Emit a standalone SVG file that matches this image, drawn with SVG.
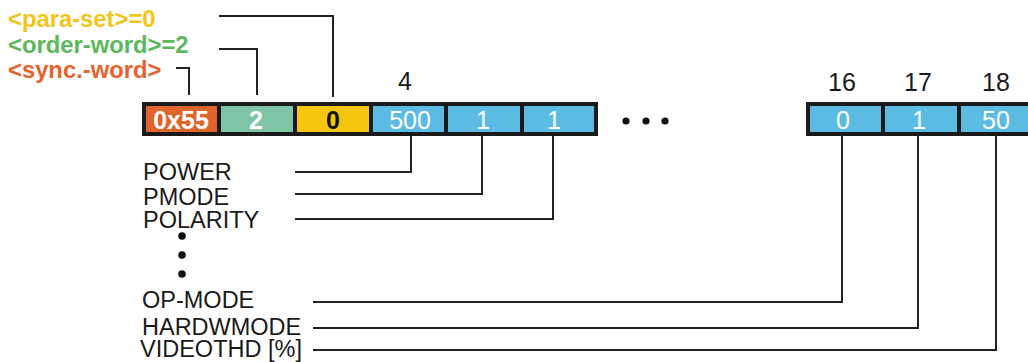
<svg xmlns="http://www.w3.org/2000/svg" width="1028" height="362" viewBox="0 0 1028 362">
<style>
.lbl{font-family:"Liberation Sans",Arial,sans-serif;font-size:23.5px;fill:#1a1a1a}
.top{font-family:"Liberation Sans",Arial,sans-serif;font-size:23.8px;font-weight:bold}
.num{font-family:"Liberation Sans",Arial,sans-serif;font-size:25px;fill:#1a1a1a;text-anchor:middle}
.cv{font-family:"Liberation Sans",Arial,sans-serif;font-size:25px;fill:#fff;text-anchor:middle}
.cb{font-family:"Liberation Sans",Arial,sans-serif;font-size:25px;font-weight:bold;fill:#fff;text-anchor:middle}
.cell{stroke:#1a1a1a;stroke-width:4}
.blue{fill:#5cbbe2}
.con{fill:none;stroke:#222;stroke-width:2}
.dot{fill:#111}
</style>
<g id="top-labels">
<text class="top" x="8" y="27" fill="#f4c418">&lt;para-set&gt;=0</text>
<text class="top" x="8" y="53" fill="#5cb85c">&lt;order-word&gt;=2</text>
<text class="top" x="8" y="78" fill="#e6632d">&lt;sync.-word&gt;</text>
</g>
<g id="index-labels">
<text class="num" x="405" y="90">4</text>
<text class="num" x="842" y="91">16</text>
<text class="num" x="918" y="91">17</text>
<text class="num" x="996" y="91">18</text>
</g>
<g id="cell-sync"><rect class="cell" x="144" y="104" width="75" height="30" fill="#e0652b"/><text class="cb" x="181" y="129">0x55</text></g>
<g id="cell-order"><rect class="cell" x="219" y="104" width="76" height="30" fill="#7ec5a7"/><text class="cb" x="256" y="129">2</text></g>
<g id="cell-para"><rect class="cell" x="295" y="104" width="76" height="30" fill="#f5c60f"/><text class="cb" x="333" y="129" style="fill:#111">0</text></g>
<g id="cell-power"><rect class="cell blue" x="371" y="104" width="75" height="30"/><text class="cv" x="410" y="129">500</text></g>
<g id="cell-pmode"><rect class="cell blue" x="446" y="104" width="76" height="30"/><text class="cv" x="483" y="129">1</text></g>
<g id="cell-polarity"><rect class="cell blue" x="522" y="104" width="74" height="30"/><text class="cv" x="554" y="129">1</text></g>
<g id="ellipsis"><circle class="dot" cx="626" cy="121" r="3.6"/><circle class="dot" cx="646" cy="121" r="3.6"/><circle class="dot" cx="665" cy="121" r="3.6"/></g>
<g id="cell-opmode"><rect class="cell blue" x="808" y="104" width="75" height="30"/><text class="cv" x="843" y="129">0</text></g>
<g id="cell-hardwmode"><rect class="cell blue" x="883" y="104" width="76" height="30"/><text class="cv" x="919" y="129">1</text></g>
<g id="cell-videothd"><rect class="cell blue" x="959" y="104" width="77" height="30"/><text class="cv" x="996" y="129">50</text></g>
<g id="param-labels">
<text class="lbl" x="143" y="180">POWER</text>
<text class="lbl" x="143" y="205">PMODE</text>
<text class="lbl" x="143" y="228">POLARITY</text>
<circle class="dot" cx="182" cy="236" r="3.8"/>
<circle class="dot" cx="182" cy="255" r="3.8"/>
<circle class="dot" cx="182" cy="274" r="3.8"/>
<text class="lbl" x="142" y="308">OP-MODE</text>
<text class="lbl" x="142" y="335">HARDWMODE</text>
<text class="lbl" x="140" y="357">VIDEOTHD [%]</text>
</g>
<g id="connectors">
<polyline class="con" points="219,16 333,16 333,97"/>
<polyline class="con" points="219,49 257,49 257,95"/>
<polyline class="con" points="176,68 189,68 189,95"/>
<polyline class="con" points="411,136 411,172 295,172"/>
<polyline class="con" points="482,136 482,194 295,194"/>
<polyline class="con" points="553,136 553,219 295,219"/>
<polyline class="con" points="842,134 842,302 313,302"/>
<polyline class="con" points="918,134 918,328 313,328"/>
<polyline class="con" points="996,134 996,350 313,350"/>
</g>
</svg>
